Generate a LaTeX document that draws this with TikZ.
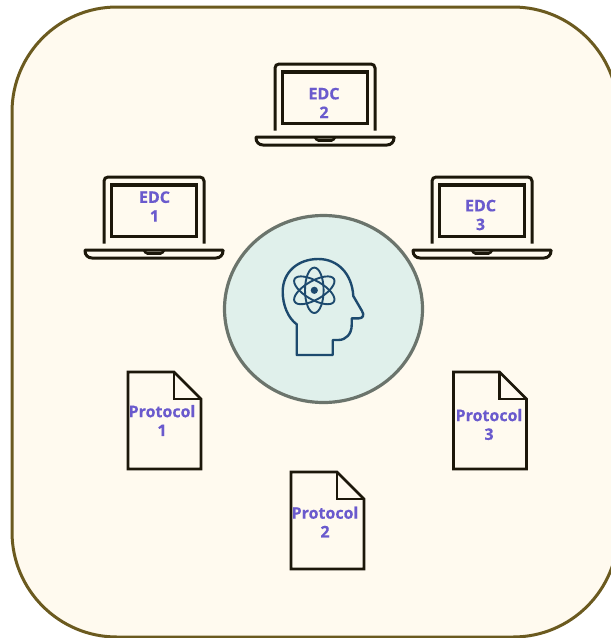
\documentclass[tikz,border=0pt]{standalone}
\usepackage{xcolor}
\usepackage{fontspec}
\usetikzlibrary{shapes.geometric}
\setsansfont{Open Sans}[BoldFeatures={FakeBold=0.5}]
\definecolor{paneledge}{HTML}{6B5A1F}
\definecolor{panelfill}{HTML}{FFFAEF}
\definecolor{inkdark}{HTML}{1C170A}
\definecolor{labelblue}{HTML}{6A5ACD}
\definecolor{brainfill}{HTML}{E0F0EB}
\definecolor{brainedge}{HTML}{6B746C}
\definecolor{headblue}{HTML}{1D4A6E}

\begin{document}
\begin{tikzpicture}[
        x=1pt, y=-1pt,
        panel/.style={rectangle, draw=paneledge, fill=panelfill, line width=3pt, rounded corners=105pt, minimum width=606pt, minimum height=630pt},
        brain/.style={ellipse, draw=brainedge, fill=brainfill, line width=3.2pt},
        itemlabel/.style={align=center, text=labelblue, font=\sffamily\bfseries\fontsize{16}{18.8}\selectfont, inner sep=0pt},
        headline/.style={draw=headblue, line width=2.4pt, line join=round},
        laptop/.pic={
            \draw[draw=inkdark, line width=3pt, rounded corners=4pt] (-50,66.5) -- (-50,0) -- (50,0) -- (50,66.5);
            \draw[draw=inkdark, line width=3.2pt] (-42.5,8) rectangle (42.5,59.5);
            \draw[draw=inkdark, line width=3pt, line join=round] (-69,73) -- (69,73) -- (69,74) .. controls (69,78) and (66,81) .. (62,81) -- (-62,81) .. controls (-66,81) and (-69,78) .. (-69,74) -- cycle;
            \draw[draw=inkdark, line width=2.6pt, rounded corners=1.5pt] (-10,73) -- (-8,76.5) -- (8,76.5) -- (10,73);
        },
        protocol/.pic={
            \draw[draw=inkdark, line width=2.6pt, line join=miter] (0,0) -- (46,0) -- (73,27) -- (73,97) -- (0,97) -- cycle;
            \draw[draw=inkdark, line width=2.6pt] (46,0) -- (46,27) -- (73,27);
        }
    ]
        \useasboundingbox (0,0) rectangle (611,638);
        \clip (0,0) rectangle (611,638);
        % Background
        \node[panel] (back) at (315,322) {};

        % EDC laptops
        \pic (edcone) at (154,177) {laptop};
        \pic (edctwo) at (325,64) {laptop};
        \pic (edcthree) at (482,177) {laptop};
        \node[itemlabel] (edconetext) at (154.5,206.5) {EDC\\1};
        \node[itemlabel] (edctwotext) at (324,103) {EDC\\2};
        \node[itemlabel] (edcthreetext) at (480.5,215) {EDC\\3};

        % Protocol sheets
        \pic (protone) at (128,372) {protocol};
        \pic (prottwo) at (291,472) {protocol};
        \pic (protthree) at (453.5,372) {protocol};
        \node[itemlabel] (protonetext) at (162,420.5) {Protocol\\1};
        \node[itemlabel] (prottwotext) at (325,522) {Protocol\\2};
        \node[itemlabel] (protthreetext) at (489,424.5) {Protocol\\3};

        % Brain
        \node[brain, minimum width=198pt, minimum height=187pt] (brain) at (323.5,309) {};
        \draw[headline] (296.7,355) -- (296.7,324.3) .. controls (288,318) and (282.7,305) .. (282.7,291.7)
            .. controls (282.7,272) and (298,259) .. (318.3,259) .. controls (338,259) and (352,274) .. (353.3,296)
            -- (362,311) .. controls (364.5,315) and (363,318.3) .. (359,318.3) -- (351.7,318.3) -- (351.7,325)
            .. controls (351.7,334) and (346,340) .. (338.3,340) -- (332.7,340) -- (332.7,355) -- cycle;
        \draw[headline, line width=1.9pt] (314.3,290.3) ellipse [x radius=9.3pt, y radius=22.7pt];
        \draw[headline, line width=1.9pt, rotate around={60:(314.3,290.3)}] (314.3,290.3) ellipse [x radius=9.3pt, y radius=22.7pt];
        \draw[headline, line width=1.9pt, rotate around={-60:(314.3,290.3)}] (314.3,290.3) ellipse [x radius=9.3pt, y radius=22.7pt];
        \fill[headblue] (314.3,290.3) circle [radius=3.6pt];
\end{tikzpicture}
\end{document}
